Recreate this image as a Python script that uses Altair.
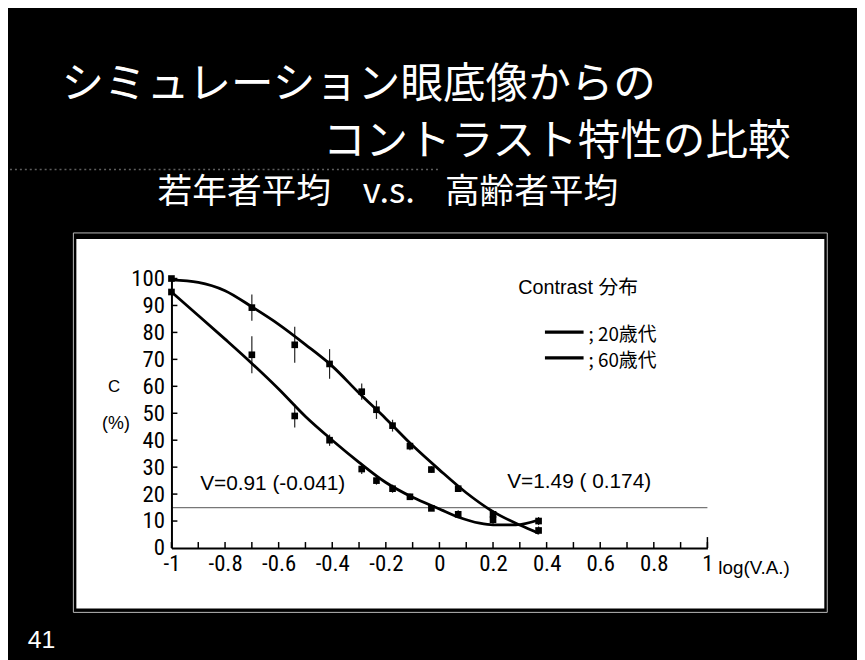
import altair as alt
import pandas as pd

# ---- data ----
va_log = [-1.0, -0.70, -0.54, -0.41, -0.29, -0.235, -0.175, -0.11, -0.03, 0.07, 0.20, 0.37]
c_20s = [100, 89.2, 75.4, 68.3, 58.0, 51.3, 45.4, 37.8, 29.1, 22.0, 12.5, 6.5]
err_20s = [0.5, 4.9, 6.7, 5.5, 3.0, 3.4, 2.2, 1.5, 1.2, 1.0, 1.5, 1.5]
c_60s = [95, 71.7, 49.0, 40.0, 29.3, 25.0, 22.0, 19.0, 14.7, 12.5, 10.5, 10.0]
err_60s = [0.5, 6.9, 4.3, 2.1, 1.8, 1.5, 1.5, 1.2, 1.0, 1.5, 2.0, 1.5]

fit_x_20s = [-1.0, -0.9, -0.8, -0.7, -0.6, -0.5, -0.4, -0.3, -0.2, -0.1, 0.0, 0.1, 0.2, 0.3, 0.37]
fit_20s = [99.5, 98.6, 95.5, 89.5, 83.0, 75.5, 67.5, 57.5, 48.0, 38.0, 29.0, 20.5, 13.5, 8.5, 5.5]
fit_x_60s = [-1.0, -0.9, -0.8, -0.7, -0.6, -0.5, -0.4, -0.3, -0.2, -0.1, 0.0, 0.07, 0.15, 0.2, 0.285, 0.37]
fit_60s = [95.0, 86.3, 77.5, 68.5, 59.0, 48.8, 40.0, 31.8, 24.3, 18.8, 14.5, 11.5, 9.2, 8.6, 8.6, 10.4]

threshold = 15
ann_x = [-0.893, 0.253]
ann_y = [23.9, 24.6]
ann_text = ["V=0.91 (-0.041)", "V=1.49 ( 0.174)"]

x_tick_labels = [-1, -0.8, -0.6, -0.4, -0.2, 0, 0.2, 0.4, 0.6, 0.8, 1]
x_ticks = [-1, -0.9, -0.8, -0.7, -0.6, -0.5, -0.4, -0.3, -0.2, -0.1, 0,
           0.1, 0.2, 0.3, 0.4, 0.5, 0.6, 0.7, 0.8, 0.9, 1]
y_ticks = [0, 10, 20, 30, 40, 50, 60, 70, 80, 90, 100]

series_names = ["20歳代", "60歳代"]

W, H = 541, 272
NARROW = "Liberation Sans Narrow, Roboto Condensed, DejaVu Sans Condensed, sans-serif"
SANS = "Liberation Sans, Arial, sans-serif"
JP = "Noto Sans CJK JP, sans-serif"
MIX = "Liberation Sans Narrow, Noto Sans CJK JP, sans-serif"

xscale = alt.Scale(domain=[-1, 1], nice=False, zero=False)
yscale = alt.Scale(domain=[0, 100], nice=False)
xaxis = alt.Axis(values=x_tick_labels, ticks=False, grid=False, domainColor="black",
                 domainWidth=2, labelFont=NARROW, labelFontSize=23, labelColor="black",
                 labelPadding=5, labelExpr="replace(format(datum.value, '~g'), '\u2212', '-')",
                 labelFlush=False, labelOverlap=False, zindex=1, title=None)
yaxis = alt.Axis(values=y_ticks, ticks=False, grid=False, domainColor="black",
                 domainWidth=2, labelFont=NARROW, labelFontSize=23, labelColor="black",
                 labelPadding=7, labelFlush=False, labelOverlap=False, zindex=1, title=None)


def X(field="x"):
    return alt.X(field, type="quantitative", scale=xscale, axis=xaxis)


def Y(field="y"):
    return alt.Y(field, type="quantitative", scale=yscale, axis=yaxis)


one = pd.DataFrame({"k": [0]})


def label(text, x, y, size, color="black", font=SANS, align="left", weight="normal"):
    return alt.Chart(one).mark_text(
        text=text, font=font, fontSize=size, color=color, align=align,
        baseline="middle", fontWeight=weight
    ).encode(x=alt.value(x), y=alt.value(y))


# ---- tables ----
pts = pd.DataFrame({
    "x": va_log * 2,
    "y": c_20s + c_60s,
    "lo": [v - e for v, e in zip(c_20s, err_20s)] + [v - e for v, e in zip(c_60s, err_60s)],
    "hi": [v + e for v, e in zip(c_20s, err_20s)] + [v + e for v, e in zip(c_60s, err_60s)],
    "s": [series_names[0]] * len(va_log) + [series_names[1]] * len(va_log),
})
fits = pd.DataFrame({
    "x": fit_x_20s + fit_x_60s,
    "y": fit_20s + fit_60s,
    "s": [series_names[0]] * len(fit_x_20s) + [series_names[1]] * len(fit_x_60s),
})
ref = pd.DataFrame({"x": [-1], "x2": [1], "y": [threshold]})
ann = pd.DataFrame({"x": ann_x, "y": ann_y, "t": ann_text})
xt = pd.DataFrame({"x": x_ticks})
yt = pd.DataFrame({"y": y_ticks[1:]})

# ---- decoration: slide ----
scanline = alt.Chart(one).mark_rule(color="#888888", strokeWidth=1.5, strokeDash=[2, 3], opacity=0.7).encode(
    x=alt.value(-173), x2=alt.value(269), y=alt.value(-110))
frame = alt.Chart(one).mark_rect(fillOpacity=0, stroke="#bbbbbb", strokeWidth=1).encode(
    x=alt.value(-99), x2=alt.value(662), y=alt.value(-46), y2=alt.value(337))
panel = alt.Chart(one).mark_rect(color="white").encode(
    x=alt.value(-96), x2=alt.value(659), y=alt.value(-40), y2=alt.value(333))

titles = [
    label("シミュレーション眼底像からの", -111, -195, 43, "white", JP),
    label("コントラスト特性の比較", 153, -138, 43, "white", JP),
    label("若年者平均", -14, -87, 35, "white", JP),
    label("v.s.", 193, -87, 35, "white", JP),
    label("高齢者平均", 276, -87, 35, "white", JP),
    label("41", -145, 365, 25, "white", SANS),
]

# ---- chart layers ----
reference_line = alt.Chart(ref).mark_rule(color="#777777", strokeWidth=1.2).encode(
    x=X("x"), x2="x2", y=Y("y"))
xtick_rules = alt.Chart(xt).mark_rule(color="black", strokeWidth=1.5).encode(
    x=X("x"), y=alt.value(H), y2=alt.value(H - 6))
ytick_rules = alt.Chart(yt).mark_rule(color="black", strokeWidth=1.5).encode(
    y=Y("y"), x=alt.value(0), x2=alt.value(6))
errbars = alt.Chart(pts).mark_rule(color="#222222", strokeWidth=1.2).encode(
    x=X("x"), y=Y("lo"), y2="hi", detail="s:N")
curves = alt.Chart(fits).mark_line(color="black", strokeWidth=2.8, interpolate="monotone").encode(
    x=X("x"), y=Y("y"), detail="s:N")
points = alt.Chart(pts).mark_square(color="black", size=45, opacity=1).encode(
    x=X("x"), y=Y("y"), detail="s:N")
annots = alt.Chart(ann).mark_text(font=SANS, fontSize=21, color="black", align="left",
                                  baseline="middle").encode(x=X("x"), y=Y("y"), text="t:N")

axis_texts = [
    label("C", -58, 110, 17, "black", SANS, "center"),
    label("(%)", -56, 147, 18, "black", SANS, "center"),
    label("log(V.A.)", 552, 292, 19, "black", SANS),
    label("Contrast 分布", 350, 10, 20, "black", "Liberation Sans, Noto Sans CJK JP, sans-serif"),
    label("; " + series_names[0], 421, 57, 19, "black", MIX),
    label("; " + series_names[1], 421, 83, 19, "black", MIX),
]
legend_lines = [
    alt.Chart(one).mark_rule(color="black", strokeWidth=3.3).encode(
        x=alt.value(377), x2=alt.value(416), y=alt.value(54)),
    alt.Chart(one).mark_rule(color="black", strokeWidth=3.3).encode(
        x=alt.value(377), x2=alt.value(416), y=alt.value(80)),
]
end_tick = alt.Chart(one).mark_rule(color="black", strokeWidth=1.5).encode(
    x=alt.value(W), y=alt.value(H), y2=alt.value(H - 11))

chart = alt.layer(
    scanline, frame, panel, *titles,
    reference_line, xtick_rules, ytick_rules, end_tick,
    errbars, curves, points, annots,
    *axis_texts, *legend_lines,
).properties(
    width=W, height=H,
    autosize=alt.AutoSizeParams(type="none"),
    padding={"left": 165, "top": 270, "right": 151, "bottom": 110},
    background="black",
).configure_view(strokeOpacity=0)

chart.save("out.html", embed_options={"renderer": "svg", "actions": False})
